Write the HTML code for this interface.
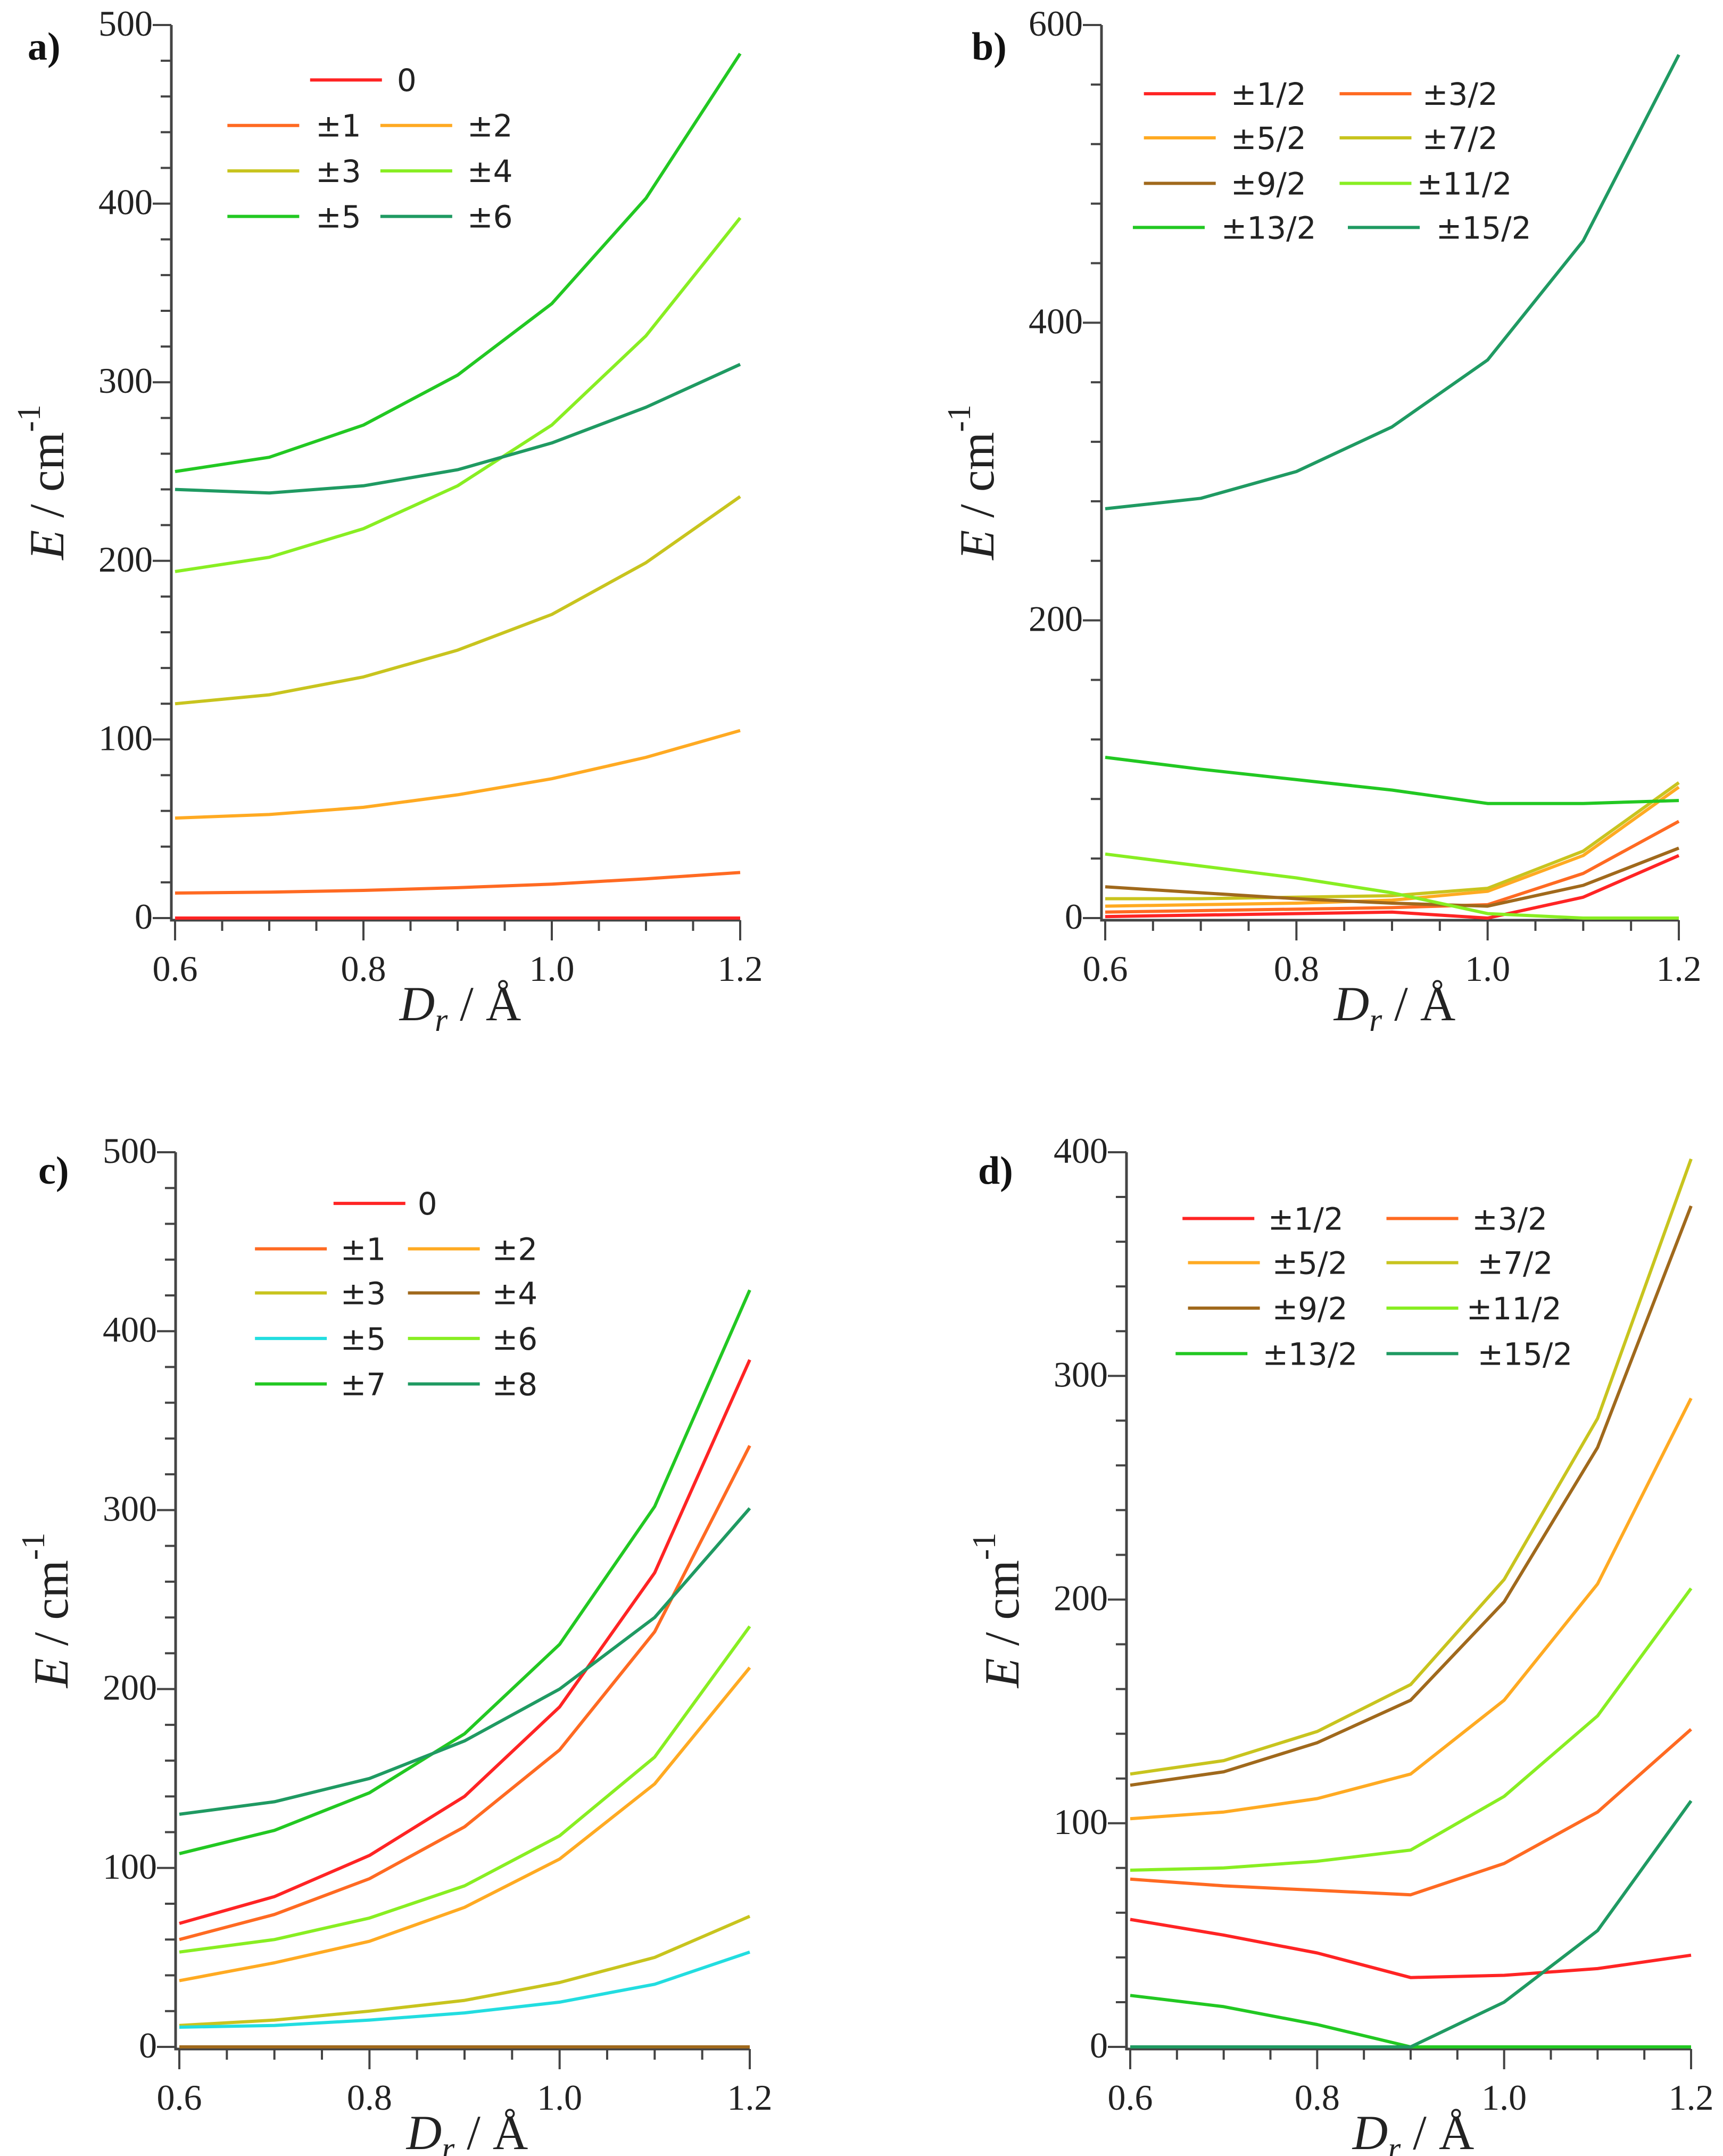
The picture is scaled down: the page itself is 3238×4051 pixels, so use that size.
<!DOCTYPE html>
<html><head><meta charset="utf-8">
<style>
html,body{margin:0;padding:0;background:#fff;}
svg{display:block;}
.tk{font-family:"Liberation Serif",serif;font-size:68px;fill:#222;}
.lg{font-family:"DejaVu Sans","Liberation Sans",sans-serif;font-size:58px;fill:#222;}
.ti{font-family:"Liberation Serif",serif;font-size:92px;fill:#222;}
.pl{font-family:"Liberation Serif",serif;font-size:74px;font-weight:bold;fill:#111;}
</style></head>
<body>
<svg id="chart" width="3238" height="4051" viewBox="0 0 3238 4051" xmlns="http://www.w3.org/2000/svg"></svg>
<script>
const xCats = [0.6,0.7,0.8,0.9,1.0,1.1,1.2];
const xTicks = ["0.6","0.8","1.0","1.2"];
const xTickVals = [0.6,0.8,1.0,1.2];

const aLabels = ["0","±1","±2","±3","±4","±5","±6"];
const aS0 = [0,0,0,0,0,0,0];
const aS1 = [14,14.5,15.5,17,19,22,25.5];
const aS2 = [56,58,62,69,78,90,105];
const aS3 = [120,125,135,150,170,199,236];
const aS4 = [194,202,218,242,276,326,392];
const aS5 = [250,258,276,304,344,403,484];
const aS6 = [240,238,242,251,266,286,310];

const bLabels = ["±1/2","±3/2","±5/2","±7/2","±9/2","±11/2","±13/2","±15/2"];
const bS1 = [1,2,3,4,0,14,42];
const bS3 = [4,5,6,7,9,30,65];
const bS5 = [8,9,10,12,18,42,88];
const bS7 = [13,13,14,15,20,45,91];
const bS9 = [21,17,13,10,8,22,47];
const bS11 = [43,35,27,17,3,0,0];
const bS13 = [108,100,93,86,77,77,79];
const bS15 = [275,282,300,330,375,455,580];

const cLabels = ["0","±1","±2","±3","±4","±5","±6","±7","±8"];
const cS0 = [69,84,107,140,190,265,384];
const cS1 = [60,74,94,123,166,232,336];
const cS2 = [37,47,59,78,105,147,212];
const cS3 = [12,15,20,26,36,50,73];
const cS4 = [0,0,0,0,0,0,0];
const cS5 = [11,12,15,19,25,35,53];
const cS6 = [53,60,72,90,118,162,235];
const cS7 = [108,121,142,175,225,302,423];
const cS8 = [130,137,150,171,200,240,301];

const dLabels = ["±1/2","±3/2","±5/2","±7/2","±9/2","±11/2","±13/2","±15/2"];
const dS1 = [57,50,42,31,32,35,41];
const dS3 = [75,72,70,68,82,105,142];
const dS5 = [102,105,111,122,155,207,290];
const dS7 = [122,128,141,162,209,281,397];
const dS9 = [117,123,136,155,199,268,376];
const dS11 = [79,80,83,88,112,148,205];
const dS13 = [23,18,10,0,0,0,0];
const dS15 = [0,0,0,0,20,52,110];

const C = {red:"#ff2424",or:"#ff6a22",ya:"#ffaa22",ol:"#c8c41e",lg:"#88ee22",gr:"#22c822",tl:"#1f9a62",br:"#a0691c",cy:"#22dde0"};
const NS="http://www.w3.org/2000/svg";
const svg=document.getElementById('chart');
function mk(tag,attrs,parent){const e=document.createElementNS(NS,tag);for(const k in attrs)e.setAttribute(k,attrs[k]);(parent||svg).appendChild(e);return e;}

function panel(p){
  const g=mk('g',{});
  
  
  const sx=v=>p.x0+(v-0.6)/(0.6)*(p.x1-p.x0);
  const sy=v=>p.y0-(v/p.ymax)*(p.y0-p.y1);
  const ax=mk('path',{d:`M${p.x0-7} ${p.y1} L${p.x0-7} ${p.y0+4} L${p.x1} ${p.y0+4}`,fill:'none',stroke:'#444','stroke-width':5},g);
  
  
  const nMinor=p.ymax/p.minor;
  for(let i=0;i<=nMinor;i++){
    const v=i*p.minor,y=sy(v),maj=(v%p.major===0);
    mk('line',{x1:p.x0-7-(maj?35:20),x2:p.x0-7,y1:y,y2:y,stroke:'#444','stroke-width':4},g);
    if(maj){const t=mk('text',{x:p.x0-42,y:y+20,'text-anchor':'end',class:'tk'},g);t.textContent=v;
      
      }
  }
  for(let i=0;i<=12;i++){
    const v=0.6+i*0.05,x=sx(v),maj=(i%4===0);
    mk('line',{x1:x,x2:x,y1:p.y0+4,y2:p.y0+4+(maj?38:20),stroke:'#444','stroke-width':4},g);
  }
  xTickVals.forEach((v,i)=>{const t=mk('text',{x:sx(v),y:p.y0+118,'text-anchor':'middle',class:'tk'},g);t.textContent=xTicks[i];
    
    });
  const xt=mk('text',{x:(p.x0+p.x1)/2+5,y:p.y0+192,'text-anchor':'middle',class:'ti'},g);
  xt.innerHTML='<tspan font-style="italic">D</tspan><tspan font-style="italic" font-size="62" dy="20">r</tspan><tspan dy="-20"> / Å</tspan>';
  
  
  const yc=(p.y0+p.y1)/2+20;
  const yt=mk('text',{x:0,y:0,'text-anchor':'middle',class:'ti',transform:`translate(${p.x0-210},${yc}) rotate(-90)`},g);
  yt.innerHTML='<tspan font-style="italic">E</tspan>  /  cm<tspan font-size="62" dy="-44">-1</tspan>';
  
  
  const pl=mk('text',{x:p.lx,y:p.ly,class:'pl'},g);pl.textContent=p.id+')';
  
  
  p.series.forEach((s,i)=>{
    const d=s.vals.map((v,j)=>(j?'L':'M')+sx(xCats[j]).toFixed(1)+' '+sy(v).toFixed(1)).join(' ');
    const ln=mk('path',{d:d,fill:'none',stroke:s.c,'stroke-width':6,'stroke-linejoin':'round'},g);
    
    
  });
  p.legend.forEach((L,i)=>{
    const s=p.series[L.i];
    const lg=mk('g',{},g);
    
    
    mk('line',{x1:L.lx,x2:L.lx+135,y1:L.y,y2:L.y,stroke:s.c,'stroke-width':6},lg);
    const t=mk('text',{x:L.tx,y:L.y+21,class:'lg'},lg);t.textContent=p.labels[L.i];
  });
}
const K=2.59;
function leg(rows){return rows.map(r=>({i:r[0],lx:r[1]*K,tx:r[2]*K,y:r[3]*K}));}

panel({id:'a',x0:329,x1:1391,y0:1725,y1:47,ymax:500,major:100,minor:20,lx:52,ly:112,labels:aLabels,
 series:[{vals:aS0,c:C.red},{vals:aS1,c:C.or},{vals:aS2,c:C.ya},{vals:aS3,c:C.ol},{vals:aS4,c:C.lg},{vals:aS5,c:C.gr},{vals:aS6,c:C.tl}],
 legend:leg([[0,225,288,58],[1,165,229,91],[2,276,339,91],[3,165,229,124],[4,276,339,124],[5,165,229,157],[6,276,339,157]])});
panel({id:'b',x0:2077,x1:3155,y0:1725,y1:47,ymax:600,major:200,minor:40,lx:1826,ly:112,labels:bLabels,
 series:[{vals:bS1,c:C.red},{vals:bS3,c:C.or},{vals:bS5,c:C.ya},{vals:bS7,c:C.ol},{vals:bS9,c:C.br},{vals:bS11,c:C.lg},{vals:bS13,c:C.gr},{vals:bS15,c:C.tl}],
 legend:leg([[0,830,893,68],[1,972,1032,68],[2,830,893,100],[3,972,1032,100],[4,830,893,133],[5,972,1028,133],[6,822,886,165],[7,978,1042,165]])});
panel({id:'c',x0:337,x1:1409,y0:3846,y1:2165,ymax:500,major:100,minor:20,lx:72,ly:2224,labels:cLabels,
 series:[{vals:cS0,c:C.red},{vals:cS1,c:C.or},{vals:cS2,c:C.ya},{vals:cS3,c:C.ol},{vals:cS4,c:C.br},{vals:cS5,c:C.cy},{vals:cS6,c:C.lg},{vals:cS7,c:C.gr},{vals:cS8,c:C.tl}],
 legend:leg([[0,242,303,873],[1,185,247,906],[2,296,357,906],[3,185,247,938],[4,296,357,938],[5,185,247,971],[6,296,357,971],[7,185,247,1004],[8,296,357,1004]])});
panel({id:'d',x0:2124,x1:3178,y0:3846,y1:2165,ymax:400,major:100,minor:20,lx:1838,ly:2224,labels:dLabels,
 series:[{vals:dS1,c:C.red},{vals:dS3,c:C.or},{vals:dS5,c:C.ya},{vals:dS7,c:C.ol},{vals:dS9,c:C.br},{vals:dS11,c:C.lg},{vals:dS13,c:C.gr},{vals:dS15,c:C.tl}],
 legend:leg([[0,858,920,884],[1,1006,1068,884],[2,862,923,916],[3,1006,1072,916],[4,862,923,949],[5,1006,1064,949],[6,853,916,982],[7,1006,1072,982]])});
</script>
</body></html>
